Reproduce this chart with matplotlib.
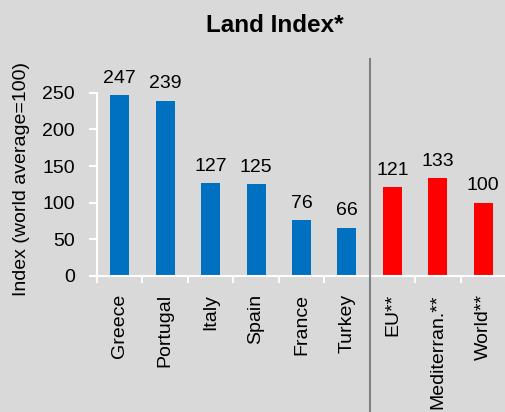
import matplotlib
matplotlib.use("Agg")
import matplotlib.pyplot as plt

categories = ["Greece", "Portugal", "Italy", "Spain", "France", "Turkey",
              "EU**", "Mediterran.**", "World**"]
values = [247, 239, 127, 125, 76, 66, 121, 133, 100]
bar_colors = ["#0070C0"] * 6 + ["#FF0000"] * 3
yticks = [0, 50, 100, 150, 200, 250]

plt.rcParams['font.family'] = ['Liberation Sans', 'DejaVu Sans']
bg = "#D9D9D9"
fs = 14
fig = plt.figure(figsize=(5.06, 4.12), dpi=100, facecolor=bg)
ax = fig.add_axes([97/506, 1-276/412, 1-97/506, (276-92.7)/412])
ax.set_facecolor(bg)

x = list(range(len(categories)))
ax.bar(x, values, width=0.42, color=bar_colors, zorder=2)
for xi, v in zip(x, values):
    ax.annotate(str(v), (xi, v), xytext=(0, 6), textcoords="offset points",
                ha="center", va="bottom", fontsize=fs)

ax.set_xlim(-0.5, len(categories) - 0.5)
ax.set_ylim(0, 250)
ax.set_yticks(yticks)
ax.set_yticklabels([str(t) for t in yticks], fontsize=fs)

ax.set_xticks([i + 0.5 for i in range(-1, len(categories))], minor=False)
ax.set_xticklabels([])
ax.set_xticks(x, minor=True)
ax.set_xticklabels(categories, minor=True, rotation=90, fontsize=fs)
ax.tick_params(axis="x", which="minor", length=0, pad=13)
ax.tick_params(axis="x", which="major", length=5, width=1.5, color="white", direction="out")
ax.tick_params(axis="y", length=6, width=1.5, color="white", direction="out", pad=10)

for s in ["top", "right"]:
    ax.spines[s].set_visible(False)
for s in ["left", "bottom"]:
    ax.spines[s].set_color("white")
    ax.spines[s].set_linewidth(1.5)

ax.plot([5.5, 5.5], [-0.75, 1.185], transform=ax.get_xaxis_transform(),
        color="#808080", lw=1.5, clip_on=False, zorder=3)

fig.text(275/506, 1-26/412, "Land Index*", ha="center", va="center",
         fontsize=17.5, fontweight="bold")
fig.text(22/506, 1-179/412, "Index (world average=100)", rotation=90,
         ha="center", va="center", fontsize=fs)

fig.savefig("out.png", dpi=100, facecolor=bg)
